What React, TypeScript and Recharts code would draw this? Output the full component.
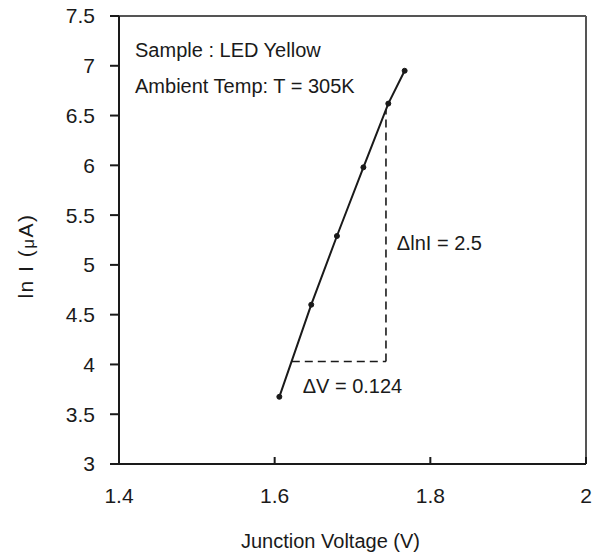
import React from 'react';
import { LineChart, Line, XAxis, YAxis, ReferenceLine, ReferenceDot } from 'recharts';

// Junction voltage (V) vs ln I (uA) for the yellow LED
const voltage = [1.606, 1.647, 1.680, 1.714, 1.746, 1.767];
const lnCurrent = [3.675, 4.6, 5.29, 5.98, 6.62, 6.95];

const xTicks = [1.4, 1.6, 1.8, 2];
const yTicks = [3, 3.5, 4, 4.5, 5, 5.5, 6, 6.5, 7, 7.5];

// slope triangle: corner and ends
const triCornerV = 1.743;
const triStartV = 1.622;
const triBaseLn = 4.03;
const triTopLn = 6.56;

const notes = [
  { text: 'Sample : LED Yellow', x: 1.4206, y: 7.088 },
  { text: 'Ambient Temp: T = 305K', x: 1.4206, y: 6.727 },
  { text: '\u0394lnI = 2.5', x: 1.757, y: 5.15 },
  { text: '\u0394V = 0.124', x: 1.636, y: 3.715 },
];

const data = voltage.map((v, i) => ({ v, ln: lnCurrent[i] }));

const FONT = '"Liberation Sans", Arial, sans-serif';
const INK = '#1a1a1a';

const XTick = (props: any) => {
  const { x, y, payload } = props;
  return (
    <g>
      <line x1={x} y1={y} x2={x} y2={y - 7} stroke={INK} strokeWidth={2} />
      <text x={x} y={y + 39} textAnchor="middle" fill={INK} fontSize={21} fontFamily={FONT}>
        {payload.value}
      </text>
    </g>
  );
};

export default function App() {
  return (
    <div style={{ position: 'absolute', left: 0, top: 0, background: '#fff' }}>
      <LineChart
        width={592}
        height={556}
        data={data}
        margin={{ top: 16, right: 6, bottom: 0, left: 0 }}
      >
        <XAxis
          dataKey="v"
          type="number"
          domain={[1.4, 2]}
          ticks={xTicks}
          height={92}
          tickSize={0}
          tickMargin={0}
          tickLine={false}
          tick={<XTick />}
          stroke={INK}
          strokeWidth={2}
          label={{
            content: ({ viewBox }: any) => (
              <text
                x={viewBox.x + viewBox.width / 2 - 22}
                y={viewBox.y + 84}
                textAnchor="middle"
                fill={INK}
                fontSize={20}
                fontFamily={FONT}
              >
                Junction Voltage (V)
              </text>
            ),
          }}
        />
        <YAxis
          type="number"
          domain={[3, 7.5]}
          ticks={yTicks}
          width={119}
          tickSize={9}
          tickMargin={15}
          stroke={INK}
          strokeWidth={2}
          tick={{ fill: INK, fontSize: 21, fontFamily: FONT }}
          label={{
            content: ({ viewBox }: any) => {
              const cx = viewBox.x + 25;
              const cy = viewBox.y + viewBox.height / 2 + 16;
              return (
                <text
                  x={cx}
                  y={cy}
                  transform={`rotate(-90, ${cx}, ${cy})`}
                  textAnchor="middle"
                  dominantBaseline="central"
                  fill={INK}
                  fontSize={21}
                  letterSpacing={1.5}
                  fontFamily={FONT}
                >
                  ln I (<tspan fontSize={17} dy={3}>{'\u03bc'}</tspan><tspan dy={-3}>A)</tspan>
                </text>
              );
            },
          }}
        />
        {/* frame top and right */}
        <ReferenceLine y={7.5} stroke="#555" strokeWidth={2} />
        <ReferenceLine x={2} stroke="#555" strokeWidth={2} />
        {/* slope triangle */}
        <ReferenceLine
          segment={[{ x: triStartV, y: triBaseLn }, { x: triCornerV, y: triBaseLn }]}
          stroke={INK}
          strokeWidth={1.6}
          strokeDasharray="8 5"
        />
        <ReferenceLine
          segment={[{ x: triCornerV, y: triBaseLn }, { x: triCornerV, y: triTopLn }]}
          stroke={INK}
          strokeWidth={1.6}
          strokeDasharray="8 5"
        />
        <Line
          dataKey="ln"
          type="linear"
          stroke={INK}
          strokeWidth={2}
          dot={{ r: 2.5, fill: INK, stroke: INK, strokeWidth: 1 }}
          isAnimationActive={false}
        />
        {notes.map((n) => (
          <ReferenceDot
            key={n.text}
            x={n.x}
            y={n.y}
            r={0}
            fill="none"
            stroke="none"
            label={{
              content: ({ viewBox }: any) => (
                <text x={viewBox.x} y={viewBox.y} fill={INK} fontSize={20} fontFamily={FONT}>
                  {n.text}
                </text>
              ),
            }}
          />
        ))}
      </LineChart>
    </div>
  );
}
